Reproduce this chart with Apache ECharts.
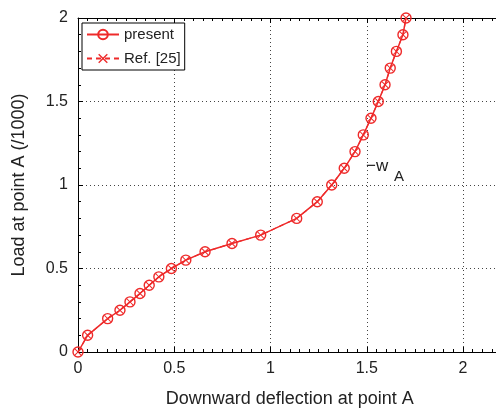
<!DOCTYPE html>
<html>
<head>
<meta charset="utf-8">
<script src="https://cdn.jsdelivr.net/npm/echarts@6/dist/echarts.min.js"></script>
<style>
  html, body { margin: 0; padding: 0; background: #fff; }
  #chart { width: 496px; height: 408px; }
</style>
</head>
<body>
<div id="chart"></div>
<script>
// Load–deflection curve at point A
const deflectionPresent = [0, 0.05, 0.154, 0.218, 0.27, 0.322, 0.37, 0.42, 0.485, 0.56, 0.66, 0.80, 0.949, 1.136, 1.243, 1.318, 1.383, 1.439, 1.482, 1.522, 1.56, 1.595, 1.622, 1.654, 1.688, 1.704];
const loadPresent = [0, 0.1, 0.2, 0.25, 0.3, 0.35, 0.4, 0.45, 0.5, 0.55, 0.6, 0.65, 0.7, 0.8, 0.9, 1.0, 1.1, 1.2, 1.3, 1.4, 1.5, 1.6, 1.7, 1.8, 1.9, 2.0];
const deflectionRef = [0, 0.05, 0.154, 0.218, 0.27, 0.322, 0.37, 0.42, 0.485, 0.56, 0.66, 0.80, 0.949, 1.136, 1.243, 1.318, 1.383, 1.439, 1.482, 1.522, 1.56, 1.595, 1.622, 1.654, 1.688, 1.704];
const loadRef = [0, 0.1, 0.2, 0.25, 0.3, 0.35, 0.4, 0.45, 0.5, 0.55, 0.6, 0.65, 0.7, 0.8, 0.9, 1.0, 1.1, 1.2, 1.3, 1.4, 1.5, 1.6, 1.7, 1.8, 1.9, 2.0];
const seriesNames = ['present', 'Ref. [25]'];
const xTicks = [0, 0.5, 1, 1.5, 2];
const yTicks = [0, 0.5, 1, 1.5, 2];

const RED = '#ee2a2a';
const FONT = '"Liberation Sans", Arial, sans-serif';
const crossPath = 'path://M1,0 L5,4 L9,0 L10,1 L6,5 L10,9 L9,10 L5,6 L1,10 L0,9 L4,5 L0,1 Z';

const pairs = (xs, ys) => xs.map((x, i) => [x, ys[i]]);
const tickLabel = list => v => {
  const hit = list.find(t => Math.abs(t - v) < 1e-9);
  return hit === undefined ? '' : String(hit);
};

const axisFrame = minorSplits => ({
  axisLine: { show: true, onZero: false, lineStyle: { color: '#000', width: 1 } },
  axisTick: { show: true, inside: true, length: 5, lineStyle: { color: '#000' } },
  minorTick: { show: true, splitNumber: minorSplits, length: 3, lineStyle: { color: '#000' } },
  splitLine: { show: false },
  axisLabel: { show: false }
});
const gridLine = { show: true, lineStyle: { color: '#444', type: [1, 3], width: 1 } };

const chart = echarts.init(document.getElementById('chart'), null, { renderer: 'canvas' });
chart.setOption({
  animation: false,
  backgroundColor: '#fff',
  grid: { left: 78, top: 18, width: 423.5, height: 334, containLabel: false, outerBoundsMode: 'none' },
  xAxis: [
    Object.assign(axisFrame(10), {
      type: 'value', min: 0, max: 2.2, interval: 0.5, position: 'bottom',
      name: 'Downward deflection at point A', nameLocation: 'middle', nameGap: 38,
      nameTextStyle: { fontFamily: FONT, fontSize: 18, color: '#222' },
      axisLabel: { show: true, margin: 9, fontFamily: FONT, fontSize: 16, color: '#222', formatter: tickLabel(xTicks) },
      splitLine: gridLine
    }),
    Object.assign(axisFrame(10), { type: 'value', min: 0, max: 2.2, interval: 0.5, position: 'top' })
  ],
  yAxis: [
    Object.assign(axisFrame(5), {
      type: 'value', min: 0, max: 2, interval: 0.5, position: 'left',
      name: 'Load at point A (/1000)', nameLocation: 'middle', nameGap: 50,
      nameTextStyle: { fontFamily: FONT, fontSize: 18, color: '#222' },
      axisLabel: { show: true, margin: 10, fontFamily: FONT, fontSize: 16, color: '#222', formatter: tickLabel(yTicks) },
      splitLine: gridLine
    }),
    Object.assign(axisFrame(5), { type: 'value', min: 0, max: 2, interval: 0.5, position: 'right' })
  ],
  legend: {
    left: 82, top: 23, orient: 'vertical',
    backgroundColor: '#fff', borderColor: '#000', borderWidth: 1, borderRadius: 0,
    padding: [4, 4, 4, 4], itemGap: 9, itemWidth: 32, itemHeight: 12,
    textStyle: { fontFamily: FONT, fontSize: 15, color: '#222' },
    data: seriesNames
  },
  graphic: [
    {
      type: 'text', z: 10,
      style: { x: 366, y: 166, text: '−w', fontFamily: FONT, fontSize: 17, fill: '#222', verticalAlign: 'middle' }
    },
    {
      type: 'text', z: 10,
      style: { x: 394, y: 177, text: 'A', fontFamily: FONT, fontSize: 15, fill: '#222', verticalAlign: 'middle' }
    }
  ],
  series: [
    {
      name: seriesNames[0], type: 'line', data: pairs(deflectionPresent, loadPresent),
      symbol: 'circle', symbolSize: 10,
      lineStyle: { color: RED, width: 1.5 },
      itemStyle: { color: 'rgba(0,0,0,0)', borderColor: RED, borderWidth: 1.4 },
      z: 3
    },
    {
      name: seriesNames[1], type: 'line', data: pairs(deflectionRef, loadRef),
      symbol: crossPath, symbolSize: 7,
      lineStyle: { color: RED, width: 1.2, type: [5, 4] },
      itemStyle: { color: RED, borderWidth: 0 },
      z: 4
    }
  ]
});
</script>
</body>
</html>
